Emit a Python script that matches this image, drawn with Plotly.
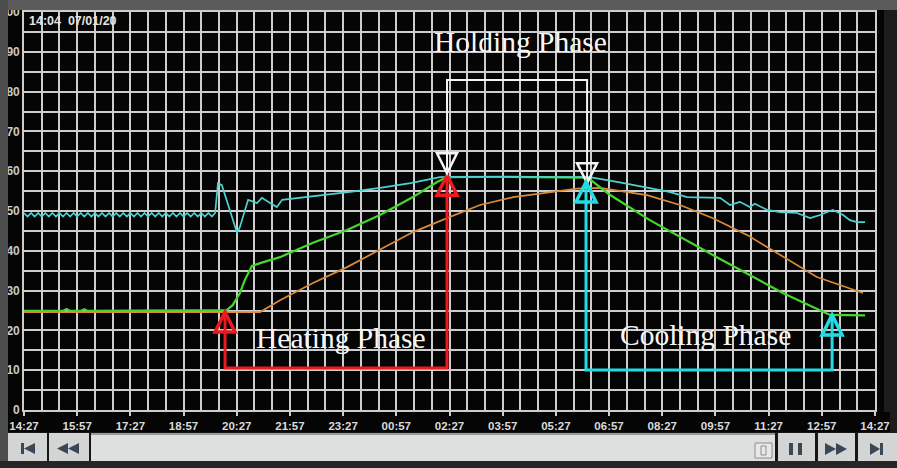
import plotly.graph_objects as go

# ---------------- data ----------------
x_tick_hours = [0, 1.5, 3, 4.5, 6, 7.5, 9, 10.5, 12, 13.5, 15, 16.5, 18, 19.5, 21, 22.5, 24]
x_tick_labels = ["14:27", "15:57", "17:27", "18:57", "20:27", "21:57", "23:27", "00:57",
                 "02:27", "03:57", "05:27", "06:57", "08:27", "09:57", "11:27", "12:57", "14:27"]
y_tick_vals = [0, 10, 20, 30, 40, 50, 60, 70, 80, 90, 100]
y_tick_labels = ["0", "10", "20", "30", "40", "50", "60", "70", "80", "90", "100"]

cyan_t = [0.0, 0.1, 0.2, 0.3, 0.4, 0.5, 0.6, 0.7, 0.8, 0.9, 1.0, 1.1, 1.2, 1.3, 1.4, 1.5,
          1.6, 1.7, 1.8, 1.9, 2.0, 2.1, 2.2, 2.3, 2.4, 2.5, 2.6, 2.7, 2.8, 2.9, 3.0, 3.1,
          3.2, 3.3, 3.4, 3.5, 3.6, 3.7, 3.8, 3.9, 4.0, 4.1, 4.2, 4.3, 4.4, 4.5, 4.6, 4.7,
          4.8, 4.9, 5.0, 5.1, 5.2, 5.3,
          5.39, 5.47, 5.58, 6.01, 6.09, 6.32, 6.57, 6.71, 6.94, 7.13, 7.28, 7.78, 8.5, 9.2,
          10.04, 10.9, 11.73, 11.93, 13.0, 14.0, 15.0, 15.96, 16.8, 17.57, 18.2, 18.7,
          19.63, 19.91, 20.19, 20.47, 20.61, 20.95, 21.32, 21.8, 22.17, 22.45, 22.81, 23.1,
          23.29, 23.49, 23.72]
cyan_v = [49.5, 48.6, 49.5, 48.6, 49.5, 48.6, 49.5, 48.6, 49.5, 48.6, 49.5, 48.6, 49.5, 48.6,
          49.5, 48.6, 49.5, 48.6, 49.5, 48.6, 49.5, 48.6, 49.5, 48.6, 49.5, 48.6, 49.5, 48.6,
          49.5, 48.6, 49.5, 48.6, 49.5, 48.6, 49.5, 48.6, 49.5, 48.6, 49.5, 48.6, 49.5, 48.6,
          49.5, 48.6, 49.5, 48.6, 49.5, 48.6, 49.5, 48.6, 49.5, 48.6, 49.5, 48.6,
          49.5, 57.0, 56.5, 44.5, 46.0, 52.8, 52.0, 53.3, 52.0, 51.0, 52.8, 53.3, 54.0, 54.8,
          55.8, 57.0, 58.5, 58.6, 58.6, 58.6, 58.5, 58.5, 57.2, 55.8, 54.8, 53.5,
          53.3, 51.5, 52.3, 51.0, 51.8, 50.3, 49.7, 49.5, 48.2, 49.0, 50.3, 49.0,
          47.7, 47.2, 47.2]

green_t = [0.0, 1.1, 1.2, 1.3, 1.6, 1.7, 1.8, 5.72, 5.89, 6.09, 6.23, 6.43, 6.66, 7.22, 8.15,
           9.11, 10.04, 10.97, 11.65, 11.93, 13.5, 15.9, 16.5, 17.65, 19.54, 21.4, 22.73, 23.72]
green_v = [24.9, 24.9, 25.4, 24.9, 24.9, 25.3, 24.9, 25.1, 26.4, 29.4, 32.7, 36.2, 36.9, 38.4, 42.0,
           45.2, 49.0, 53.5, 57.3, 58.5, 58.6, 58.4, 54.2, 47.7, 38.4, 29.4, 23.9, 23.8]

orange_t = [0.0, 6.66, 7.22, 8.15, 9.11, 10.04, 10.97, 11.93, 12.86, 13.8, 14.83, 15.6, 16.24,
            17.57, 18.5, 19.43, 20.39, 21.4, 22.36, 23.66]
orange_v = [24.6, 24.6, 27.6, 31.9, 35.9, 40.2, 44.7, 48.2, 51.5, 53.5, 54.8, 55.6, 55.8,
            54.0, 51.5, 48.2, 44.0, 38.6, 33.4, 29.4]

heating_x = [5.67, 5.67, 11.93, 11.93]
heating_y = [24.6, 10.55, 10.55, 59.0]
holding_x = [11.93, 11.93, 15.88, 15.88]
holding_y = [59.5, 82.9, 82.9, 57.0]
cooling_x = [15.85, 15.85, 22.79, 22.79]
cooling_y = [57.3, 10.05, 10.05, 23.9]

phase_labels = ["Heating Phase", "Holding Phase", "Cooling Phase"]
phase_label_x = [8.94, 13.99, 19.23]
phase_label_y = [18.1, 92.5, 18.8]
timestamp = "14:04  07/01/20"

# ---------------- figure ----------------
W, H = 897, 468
L, R, T, B = 24, 22, 12, 58
PW, PH = W - L - R, H - T - B


def px(x):
    return (x - L) / PW


def py(y):
    return (H - B - y) / PH


fig = go.Figure()

fig.add_trace(go.Scatter(x=orange_t, y=orange_v, mode="lines",
                         line=dict(color="#d98a3c", width=1.7), hoverinfo="skip"))
fig.add_trace(go.Scatter(x=green_t, y=green_v, mode="lines",
                         line=dict(color="#46d62e", width=2.2), hoverinfo="skip"))
fig.add_trace(go.Scatter(x=cyan_t, y=cyan_v, mode="lines",
                         line=dict(color="#4cd3d0", width=1.7), hoverinfo="skip"))

bracket_style = [
    (heating_x, heating_y, "#ec1a1f", 3, ["up", "up"]),
    (holding_x, holding_y, "#f4f4f4", 2, ["down", "down"]),
    (cooling_x, cooling_y, "#22dbe3", 3, ["up", "up"]),
]
shapes = []
for bx, by, col, w, dirs in bracket_style:
    fig.add_trace(go.Scatter(x=bx, y=by, mode="lines", line=dict(color=col, width=w),
                             hoverinfo="skip"))
    for (ax, ay), d in zip([(bx[0], by[0]), (bx[-1], by[-1])], dirs):
        if d == "up":
            path = "M0,0 L-10,-20 L10,-20 Z"
        else:
            path = "M0,0 L-10,20 L10,20 Z"
        shapes.append(dict(type="path", xref="x", yref="y", xsizemode="pixel",
                           ysizemode="pixel", xanchor=ax, yanchor=ay, path=path,
                           line=dict(color=col, width=w + 0.5), fillcolor="rgba(0,0,0,0)",
                           layer="above"))


def rect(x0, y0, x1, y1, color, layer="above", line=None):
    d = dict(type="rect", xref="paper", yref="paper", x0=px(x0), x1=px(x1),
             y0=py(y1), y1=py(y0), fillcolor=color, layer=layer,
             line=dict(width=0) if line is None else line)
    return d


def poly(points, color):
    p = "M" + " L".join(f"{px(a):.5f},{py(b):.5f}" for a, b in points) + " Z"
    return dict(type="path", xref="paper", yref="paper", path=p, fillcolor=color,
                line=dict(width=0), layer="above")


# frame of the photo
shapes += [
    rect(0, 0, 897, 10, "#5b5b5b"),
    rect(0, 0, 8, 468, "#4d4d4d"),
    rect(884, 10, 897, 412, "#1d1d1d"),
    rect(890, 412, 897, 468, "#1d1d1d"),
    rect(0, 461, 897, 468, "#262626"),
    rect(8, 432, 890, 461, "#161616"),
]
# control bar
btn = "#d3d4d4"
icon = "#3a4856"
shapes += [
    rect(8, 433, 47, 461, btn),
    rect(49, 433, 89, 461, btn),
    rect(91, 433, 775, 461, "#dedfdf"),
    rect(91, 433, 775, 435, "#9a9a9a"),
    rect(778, 433, 815, 461, btn),
    rect(818, 433, 855, 461, btn),
    rect(858, 433, 897, 461, btn),
    rect(755, 443, 772, 458, "#e8e8e8", line=dict(color="#8c8c8c", width=1)),
    rect(761, 446, 766, 455, "#e8e8e8", line=dict(color="#8c8c8c", width=1)),
    rect(21, 443, 24, 454, icon),
    poly([(24, 448.5), (35, 443), (35, 454)], icon),
    poly([(57, 448.5), (68, 443), (68, 454)], icon),
    poly([(68, 448.5), (79, 443), (79, 454)], icon),
    rect(789, 443, 793, 455, icon),
    rect(798, 443, 802, 455, icon),
    poly([(825, 443), (836, 449), (825, 455)], icon),
    poly([(836, 443), (847, 449), (836, 455)], icon),
    poly([(870, 443), (880, 449), (870, 455)], icon),
    rect(880, 443, 883, 455, icon),
]

annotations = []
for t, ax, ay in zip(phase_labels, phase_label_x, phase_label_y):
    annotations.append(dict(x=ax, y=ay, xref="x", yref="y", text=t, showarrow=False,
                            xanchor="center", yanchor="middle",
                            font=dict(family="Liberation Serif", size=29.5, color="#f7f7f7")))
annotations.append(dict(x=px(27), y=py(21), xref="paper", yref="paper",
                        text="<b>" + timestamp + "</b>", showarrow=False,
                        xanchor="left", yanchor="middle",
                        font=dict(family="Liberation Sans", size=12.5, color="#e4e4e4")))

grid_col = "#cdcdcd"
fig.update_layout(
    width=W, height=H,
    margin=dict(l=L, r=R, t=T, b=B, pad=0, autoexpand=False),
    paper_bgcolor="#050505",
    plot_bgcolor="#050505",
    showlegend=False,
    shapes=shapes,
    annotations=annotations,
    xaxis=dict(range=[0, 24], tickmode="array", tickvals=x_tick_hours, ticktext=x_tick_labels,
               automargin=False,
               showgrid=True, gridcolor=grid_col, gridwidth=1.7,
               minor=dict(tickmode="linear", tick0=0, dtick=0.5, showgrid=True,
                          gridcolor=grid_col, gridwidth=1.7),
               ticks="outside", ticklen=4, tickcolor=grid_col, tickwidth=1.5,
               showline=True, mirror=True, linecolor=grid_col, linewidth=1.7,
               zeroline=False, fixedrange=True,
               tickfont=dict(family="Liberation Sans", size=11.5, color="#dadada",
                             weight="bold")),
    yaxis=dict(range=[0, 100], tickmode="array", tickvals=y_tick_vals, ticktext=y_tick_labels,
               automargin=False,
               showgrid=True, gridcolor=grid_col, gridwidth=1.7,
               minor=dict(tickmode="linear", tick0=0, dtick=5, showgrid=True,
                          gridcolor=grid_col, gridwidth=1.7),
               ticks="", showline=True, mirror=True, linecolor=grid_col, linewidth=1.7,
               zeroline=False, fixedrange=True,
               tickfont=dict(family="Liberation Sans", size=12, color="#c9c9c9",
                             weight="bold")),
)

fig.write_html("out.html", config={"displayModeBar": False},
               post_script="document.body.style.margin='0';document.body.style.overflow='hidden';")
